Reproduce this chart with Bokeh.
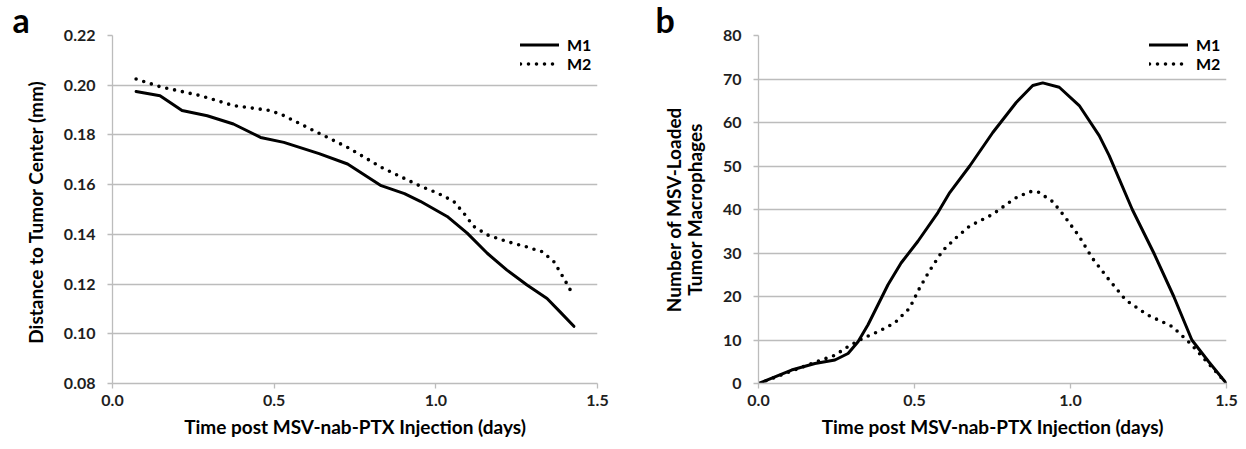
from bokeh.plotting import figure
from bokeh.layouts import row
from bokeh.models import FixedTicker, PrintfTickFormatter, Legend, LegendItem, Range1d
from bokeh.embed import file_html
from bokeh.resources import INLINE

# ---- Panel a data ----
a_x_m1 = [0.073, 0.147, 0.215, 0.293, 0.374, 0.458, 0.530, 0.639, 0.727, 0.831,
          0.903, 0.952, 1.035, 1.097, 1.159, 1.220, 1.282, 1.344, 1.385, 1.427]
a_y_m1 = [0.1975, 0.1958, 0.1898, 0.1877, 0.1844, 0.1790, 0.1770, 0.1725, 0.1683, 0.1596,
          0.1564, 0.1533, 0.1472, 0.1405, 0.1324, 0.1256, 0.1196, 0.1142, 0.1087, 0.1030]
a_x_m2 = [0.073, 0.147, 0.272, 0.374, 0.479, 0.520, 0.623, 0.727, 0.831, 0.952,
          1.004, 1.055, 1.086, 1.117, 1.159, 1.220, 1.277, 1.329, 1.365, 1.396, 1.422]
a_y_m2 = [0.2025, 0.1994, 0.1958, 0.1918, 0.1900, 0.1884, 0.1817, 0.1750, 0.1670, 0.1594,
          0.1567, 0.1533, 0.1486, 0.1432, 0.1398, 0.1371, 0.1351, 0.1330, 0.1290, 0.1223, 0.1162]

# ---- Panel b data ----
b_x_m1 = [0.0, 0.106, 0.181, 0.245, 0.287, 0.319, 0.351, 0.383, 0.415, 0.457, 0.511,
          0.575, 0.613, 0.677, 0.751, 0.826, 0.879, 0.911, 0.964, 1.028, 1.092, 1.124,
          1.198, 1.267, 1.331, 1.389, 1.443, 1.500]
b_y_m1 = [0.0, 3.1, 4.6, 5.4, 6.9, 9.6, 13.5, 18.1, 22.7, 27.7, 32.7,
          39.3, 43.9, 50.0, 57.7, 64.6, 68.5, 69.1, 68.1, 63.9, 57.0, 52.4,
          40.0, 30.0, 20.0, 10.0, 5.0, 0.0]
b_x_m2 = [0.0, 0.186, 0.245, 0.287, 0.335, 0.383, 0.436, 0.484, 0.516, 0.548, 0.590,
          0.633, 0.677, 0.751, 0.820, 0.868, 0.895, 0.943, 0.980, 1.028, 1.070, 1.124,
          1.177, 1.246, 1.326, 1.384, 1.432, 1.500]
b_y_m2 = [0.0, 5.0, 6.5, 8.5, 10.4, 11.9, 13.9, 17.3, 21.9, 25.9, 30.5,
          33.5, 36.2, 38.9, 42.5, 44.1, 44.1, 41.8, 38.5, 33.8, 28.8, 23.8,
          19.2, 15.8, 13.1, 9.2, 5.4, 0.0]

x_ticks = [0.0, 0.5, 1.0, 1.5]
a_y_ticks = [0.08, 0.10, 0.12, 0.14, 0.16, 0.18, 0.20, 0.22]
b_y_ticks = [0, 10, 20, 30, 40, 50, 60, 70, 80]
series_names = ["M1", "M2"]
panel_letters = ["a", "b"]
x_label = "Time post MSV-nab-PTX Injection (days)"
a_y_label = "Distance to Tumor Center  (mm)"
b_y_label = "Number of MSV-Loaded\nTumor Macrophages"

FONT = "Lato"
GRID = "#bcbcbc"
TXT = "#1e1e1e"


def style(p, xlabel, ylabel, yticks, yfmt, letter, letter_offset):
    p.outline_line_color = None
    p.xgrid.grid_line_color = None
    p.ygrid.grid_line_color = GRID
    p.ygrid.grid_line_width = 1.3
    for ax in (p.xaxis[0], p.yaxis[0]):
        ax.axis_line_color = GRID
        ax.axis_line_width = 1.3
        ax.major_tick_line_color = GRID
        ax.major_tick_line_width = 1.3
        ax.major_tick_out = 5
        ax.major_tick_in = 0
        ax.minor_tick_line_color = None
        ax.major_label_text_font = FONT
        ax.major_label_text_font_style = "bold"
        ax.major_label_text_font_size = "16px"
        ax.major_label_text_color = TXT
        ax.axis_label_text_font = FONT
        ax.axis_label_text_font_style = "bold"
        ax.axis_label_text_font_size = "19px"
        ax.axis_label_text_color = "#000000"
        ax.axis_label_text_line_height = 0.9
    p.xaxis[0].ticker = FixedTicker(ticks=x_ticks)
    p.xaxis[0].formatter = PrintfTickFormatter(format="%.1f")
    p.xaxis[0].major_label_standoff = 6
    p.xaxis[0].axis_label_standoff = 6
    p.xaxis[0].axis_label = xlabel
    p.yaxis[0].ticker = FixedTicker(ticks=yticks)
    p.yaxis[0].formatter = PrintfTickFormatter(format=yfmt)
    p.yaxis[0].major_label_standoff = 12
    p.yaxis[0].axis_label_standoff = 14
    p.yaxis[0].axis_label = ylabel
    # panel letter as the figure title
    p.title.text = letter
    p.title.align = "left"
    p.title.offset = letter_offset
    p.title.standoff = -8
    p.title.text_font = FONT
    p.title.text_font_style = "bold"
    p.title.text_font_size = "34px"
    p.title.text_color = "#000000"


def add_lines(p, x1, y1, x2, y2):
    r1 = p.line(x1, y1, line_color="black", line_width=3, line_join="round", line_cap="round")
    r2 = p.line(x2, y2, line_color="black", line_width=3.6, line_dash="0 8",
                line_cap="round", line_join="round")
    leg = Legend(items=[LegendItem(label=series_names[0], renderers=[r1]),
                        LegendItem(label=series_names[1], renderers=[r2])],
                 location="top_right", margin=0, padding=4, spacing=0,
                 glyph_width=39, glyph_height=19, label_height=19, label_width=30,
                 label_standoff=8, border_line_color=None, background_fill_alpha=0,
                 label_text_font=FONT, label_text_font_style="bold",
                 label_text_font_size="16px", label_text_color="#000000")
    p.add_layout(leg)


pa = figure(width=620, height=449, output_backend="svg", toolbar_location=None,
            x_range=Range1d(0, 1.5), y_range=Range1d(0.08, 0.22),
            min_border_left=112, min_border_right=23, min_border_top=35, min_border_bottom=66)
style(pa, x_label, a_y_label, a_y_ticks, "%.2f", panel_letters[0], -100)
add_lines(pa, a_x_m1, a_y_m1, a_x_m2, a_y_m2)

pb = figure(width=626, height=449, output_backend="svg", toolbar_location=None,
            x_range=Range1d(0, 1.5), y_range=Range1d(0, 80),
            min_border_left=138, min_border_right=20, min_border_top=35, min_border_bottom=66)
style(pb, x_label, b_y_label, b_y_ticks, "%d", panel_letters[1], -103)
add_lines(pb, b_x_m1, b_y_m1, b_x_m2, b_y_m2)

layout = row(pa, pb)
open("out.html", "w").write(file_html(layout, INLINE))
